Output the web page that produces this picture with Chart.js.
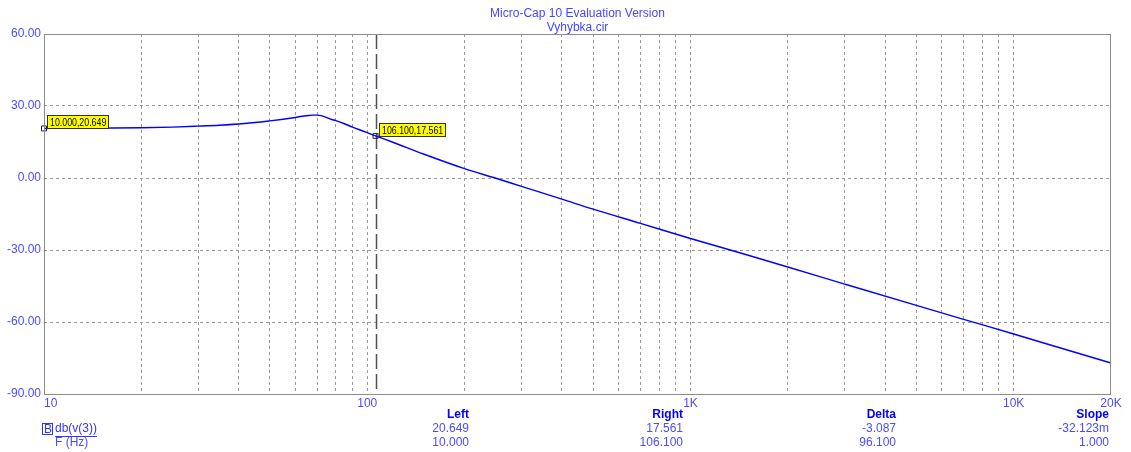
<!DOCTYPE html>
<html>
<head>
<meta charset="utf-8">
<title>Micro-Cap 10 Evaluation Version - Vyhybka.cir</title>
<script src="https://cdn.jsdelivr.net/npm/chart.js@4.4.1/dist/chart.umd.min.js"></script>
<style>
  html, body { margin: 0; padding: 0; background: #fff; }
  #wrap { width: 1131px; height: 452px; }
</style>
</head>
<body>
<div id="wrap"><canvas id="plot" width="1131" height="452"></canvas></div>
<script>
// Frequency response of db(v(3))
const freqHz = [10, 12, 15, 20, 25, 30, 35, 40, 45, 50, 55, 60, 62, 65, 68, 70, 72, 74, 77, 80, 85, 90, 95, 100, 106.1,
                120, 150, 200, 250, 300, 400, 500, 700, 1000, 1500, 2000, 3000, 5000, 7000, 10000, 15000, 20000];
const gainDb = [20.649, 20.7, 20.8, 20.95, 21.2, 21.6, 22.0, 22.5, 23.1, 23.8, 24.5, 25.2, 25.6, 25.95, 26.2, 26.2, 26.0, 25.5, 24.5, 23.9, 22.6, 21.2, 20.0, 18.9, 17.561,
                14.9, 9.9, 3.9, -0.1, -3.5, -8.8, -13.0, -18.9, -25.2, -32.1, -37.1, -44.2, -53.1, -58.9, -65.0, -72.1, -77.1];

// axis ticks
const yTicks = [-90, -60, -30, 0, 30, 60];
const xTickLabels = { 10: '    10', 100: '100', 1000: '1K', 10000: '10K', 20000: '20K' };
const xGridLines = [];
[10, 100, 1000].forEach(dec => { for (let m = 1; m < 10; m++) xGridLines.push(dec * m); });
xGridLines.push(10000, 20000);

// cursors
const cursorFreq = [10, 106.1];
const cursorGain = [20.649, 17.561];
const cursorText = ['10.000,20.649', '106.100,17.561'];

// readout table under the plot
const tableHeads = ['Left', 'Right', 'Delta', 'Slope'];
const tableTrace = ['20.649', '17.561', '-3.087', '-32.123m'];
const tableFreq = ['10.000', '106.100', '96.100', '1.000'];

const FONT = 'Arial, "Liberation Sans", sans-serif';
const LABEL_BLUE = '#4b4bff';
const GRID = '#9a9a9a';

const overlay = {
    id: 'overlay',
    beforeDatasetsDraw(chart) {
        const { ctx, chartArea } = chart;
        const x = Math.round(chart.scales.x.getPixelForValue(cursorFreq[1])) + 0.5;
        ctx.save();
        ctx.strokeStyle = '#505050';
        ctx.lineWidth = 1.5;
        ctx.setLineDash([15, 5]);
        ctx.beginPath();
        ctx.moveTo(x, chartArea.top);
        ctx.lineTo(x, chartArea.bottom);
        ctx.stroke();
        ctx.restore();
    },
    afterDraw(chart) {
        const { ctx, chartArea } = chart;
        const xs = chart.scales.x, ys = chart.scales.y;
        ctx.save();

        // frame
        ctx.strokeStyle = '#8c8c8c';
        ctx.lineWidth = 1;
        ctx.setLineDash([]);
        ctx.strokeRect(chartArea.left + 0.5, chartArea.top + 0.5,
            chartArea.right - chartArea.left - 1, chartArea.bottom - chartArea.top);

        // title
        const cx = (chartArea.left + chartArea.right) / 2;
        ctx.font = '12px ' + FONT;
        ctx.fillStyle = '#4646ff';
        ctx.textAlign = 'center';
        ctx.textBaseline = 'middle';
        ctx.fillText('Micro-Cap 10 Evaluation Version', cx, 14);
        ctx.fillText('Vyhybka.cir', cx, 28);

        // cursor labels (narrow text like the original)
        ctx.font = '11px ' + FONT;
        ctx.textAlign = 'left';
        const squeeze = 0.8;
        cursorFreq.forEach((f, i) => {
            const px = xs.getPixelForValue(f), py = ys.getPixelForValue(cursorGain[i]);
            const w = Math.round(ctx.measureText(cursorText[i]).width * squeeze + 5);
            const bx = Math.round(px + 3) + 0.5, by = Math.round(py - 13) + 0.5;
            ctx.fillStyle = '#ffff00';
            ctx.fillRect(bx, by, w, 13);
            ctx.strokeStyle = '#333';
            ctx.strokeRect(bx, by, w, 13);
            ctx.save();
            ctx.translate(bx + 2.5, by + 7);
            ctx.scale(squeeze, 1);
            ctx.fillStyle = '#000';
            ctx.fillText(cursorText[i], 0, 0);
            ctx.restore();
        });

        // readout table
        const colRight = [469, 683, 896, 1109];
        ctx.textAlign = 'right';
        tableHeads.forEach((h, i) => {
            ctx.font = 'bold 12px ' + FONT;
            ctx.fillStyle = '#0000ff';
            ctx.fillText(h, colRight[i], 415);
            ctx.font = '12px ' + FONT;
            ctx.fillStyle = LABEL_BLUE;
            ctx.fillText(tableTrace[i], colRight[i], 429);
            ctx.fillText(tableFreq[i], colRight[i], 443);
        });

        ctx.textAlign = 'left';
        ctx.font = '12px ' + FONT;
        ctx.strokeStyle = '#3232ff';
        ctx.strokeRect(42.5, 423.5, 10, 11);
        ctx.fillStyle = '#3232ff';
        ctx.fillText('B', 44, 429.5);
        ctx.fillText('db(v(3))', 55, 429);
        const tw = ctx.measureText('db(v(3))').width;
        ctx.fillRect(55, 436, tw, 1);
        ctx.fillStyle = LABEL_BLUE;
        ctx.fillText('F (Hz)', 55, 443);
        ctx.restore();
    }
};

new Chart(document.getElementById('plot'), {
    type: 'line',
    data: {
        datasets: [{
            data: freqHz.map((f, i) => ({ x: f, y: gainDb[i] })),
            borderColor: '#0000ff',
            borderWidth: 1.4,
            pointRadius: 0,
            cubicInterpolationMode: 'monotone'
        }, {
            data: cursorFreq.map((f, i) => ({ x: f, y: cursorGain[i] })),
            showLine: false,
            pointStyle: 'rect',
            pointRadius: 3.5,
            borderWidth: 1,
            borderColor: '#222',
            backgroundColor: 'rgba(0,0,0,0)',
            clip: false
        }]
    },
    options: {
        responsive: false,
        animation: false,
        devicePixelRatio: 1,
        layout: { padding: { top: 34, right: 20, left: 0, bottom: 0 } },
        plugins: { legend: { display: false }, tooltip: { enabled: false } },
        scales: {
            x: {
                type: 'logarithmic',
                min: 10,
                max: 20000,
                afterBuildTicks: s => { s.ticks = xGridLines.map(v => ({ value: v })); },
                afterFit: s => { s.height = 58; },
                grid: {
                    drawTicks: false,
                    color: c => (c.tick && (c.tick.value === 10 || c.tick.value === 20000)) ? 'rgba(0,0,0,0)' : GRID
                },
                border: { display: false, dash: [3, 3] },
                ticks: {
                    autoSkip: false,
                    maxRotation: 0,
                    padding: 2,
                    color: LABEL_BLUE,
                    font: { family: FONT, size: 12 },
                    callback: v => xTickLabels[v] || ''
                }
            },
            y: {
                min: -90,
                max: 60,
                afterBuildTicks: s => { s.ticks = yTicks.map(v => ({ value: v })); },
                afterFit: s => { s.width = 44; },
                grid: {
                    drawTicks: false,
                    color: c => (c.tick && (c.tick.value === 60 || c.tick.value === -90)) ? 'rgba(0,0,0,0)' : GRID
                },
                border: { display: false, dash: [3, 3] },
                ticks: {
                    padding: 3,
                    color: LABEL_BLUE,
                    font: { family: FONT, size: 12 },
                    callback: v => Number(v).toFixed(2)
                }
            }
        }
    },
    plugins: [overlay]
});
</script>
</body>
</html>
